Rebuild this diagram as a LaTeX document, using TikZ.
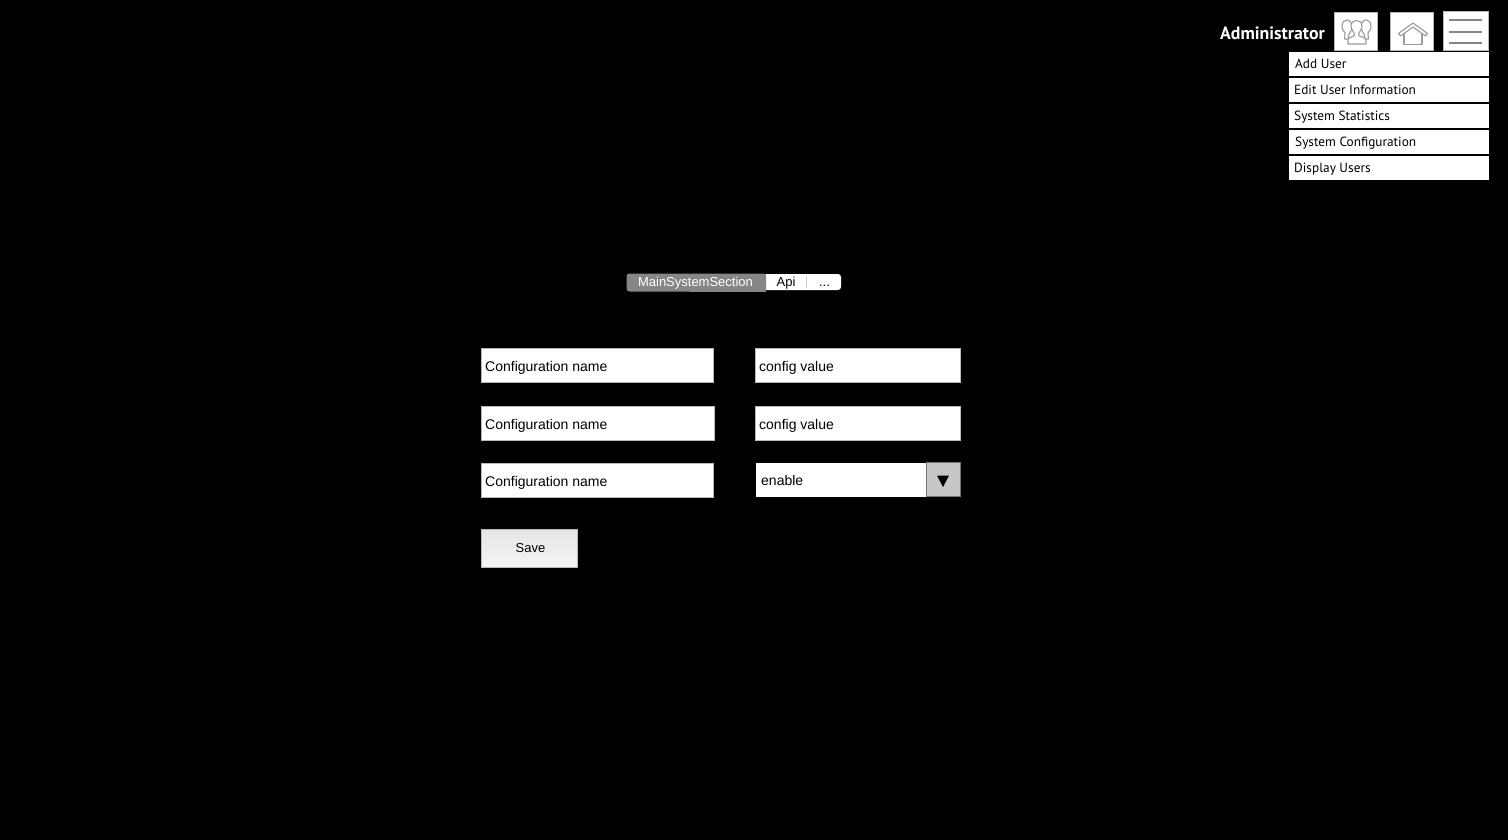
\documentclass[tikz,border=0pt]{standalone}
\usepackage{fontspec}
\setmainfont{Liberation Sans}
\newfontfamily\handfont{PT Sans}
\definecolor{edge}{HTML}{B8B8B8}
\definecolor{icon}{HTML}{9A9A9A}
\definecolor{bar}{HTML}{868686}
\tikzset{
  x=1pt,y=-1pt,
  field/.style={fill=white,draw=edge,line width=0.7pt,anchor=north west,inner sep=0pt,outer sep=0pt},
  fieldtext/.style={anchor=base west,inner sep=0pt,text=black,font=\fontsize{14}{16}\selectfont},
  tabtext/.style={anchor=base,inner sep=0pt,font=\fontsize{13}{15}\selectfont},
  menuitem/.style={fill=white,draw=none,anchor=north west,minimum width=199.5pt,minimum height=23.8pt,inner sep=0pt,outer sep=0pt},
  menutext/.style={anchor=base west,inner sep=0pt,text=black,font=\handfont\fontsize{13.3}{15}\selectfont},
  iconbox/.style={fill=white,draw=edge,line width=0.7pt,anchor=north west,inner sep=0pt,outer sep=0pt},
  iconline/.style={draw=icon,line width=1.1pt,line join=round},
}
\begin{document}
\begin{tikzpicture}
\useasboundingbox (0,0) rectangle (1508,840);
\fill[black] (0,0) rectangle (1508,840);
% header
\node[anchor=base west,inner sep=0pt,text=white,font=\handfont\bfseries\fontsize{17.8}{20}\selectfont] (admin) at (1220,39.5) {Administrator};
\node[iconbox,minimum width=43pt,minimum height=38pt] (users) at (1334,12) {};
\node[iconbox,minimum width=43pt,minimum height=38pt] (home) at (1390.5,12) {};
\node[iconbox,minimum width=44.5pt,minimum height=39pt] (burger) at (1443.5,11) {};
% users icon
\draw[iconline,fill=white] (1364,38) .. controls (1367,36) and (1361,32) .. (1361,27) .. controls (1361,22) and (1364,20) .. (1366,20) .. controls (1369,20) and (1371,22) .. (1371,27) .. controls (1371,31) and (1367,32) .. (1368,34) .. controls (1369,36) and (1369,37) .. (1368.5,39) -- (1364,39);
\draw[iconline,fill=white] (1349,38) .. controls (1346,36) and (1352,32) .. (1352,27) .. controls (1352,22) and (1349,20) .. (1347,20) .. controls (1344,20) and (1342,22) .. (1342,27) .. controls (1342,31) and (1346,32) .. (1345,34) .. controls (1344,36) and (1344,37) .. (1344.5,39) -- (1349,39);
\draw[iconline,fill=white] (1348,44) -- (1348,40) .. controls (1348,37) and (1354,37) .. (1354.5,35) .. controls (1355,33) and (1351,30) .. (1351,26) .. controls (1351,22) and (1354,20.5) .. (1356.5,20.5) .. controls (1359,20.5) and (1362,22) .. (1362,26) .. controls (1362,30) and (1358,33) .. (1358.5,35) .. controls (1359,37) and (1366,37) .. (1366,40) -- (1366,44) -- cycle;
% home icon
\draw[iconline] (1398.5,33.5) -- (1413,23) -- (1427.5,33.5) -- (1425.5,36) -- (1413,27) -- (1400.5,36) -- cycle;
\draw[iconline] (1404,34.5) -- (1404,44.5) -- (1422,44.5) -- (1422,34.5);
% burger
\draw[draw=bar,line width=2pt] (1449,20.5) -- (1482,20.5);
\draw[draw=bar,line width=2pt] (1449,32) -- (1482,32);
\draw[draw=bar,line width=2pt] (1449,43.5) -- (1482,43.5);
% menu
\node[menuitem] (m1) at (1289.3,52) {};
\node[menutext] (m1t) at (1295,68.5) {Add User};
\node[menuitem] (m2) at (1289.3,78) {};
\node[menutext] (m2t) at (1294,94.5) {Edit User Information};
\node[menuitem] (m3) at (1289.3,104) {};
\node[menutext] (m3t) at (1294,120.5) {System Statistics};
\node[menuitem] (m4) at (1289.3,130) {};
\node[menutext] (m4t) at (1295,146.5) {System Configuration};
\node[menuitem] (m5) at (1289.3,156) {};
\node[menutext] (m5t) at (1294,172.5) {Display Users};
% tabs
\fill[white,rounded corners=3pt] (700,274) rectangle (841,290);
\fill[bar,rounded corners=3pt] (626.5,273.5) -- (626.5,291.5) -- (766,291.5) -- (766,273.5) -- cycle;
\fill[bar] (690,273.5) rectangle (766,291.5);
\draw[white!80!black,line width=0.6pt] (806.5,276) -- (806.5,288);
\node[tabtext,text=white] (tab1) at (695.5,286) {MainSystemSection};
\node[tabtext,text=black] (tab2) at (786,286) {Api};
\node[tabtext,text=black] (tab3) at (824.5,286) {...};
% form
\node[field,minimum width=232.3pt,minimum height=34.3pt] (a1) at (481.3,348.3) {};
\node[fieldtext] (a1t) at (485,371) {Configuration name};
\node[field,minimum width=233.3pt,minimum height=34.3pt] (a2) at (481.3,406.3) {};
\node[fieldtext] (a2t) at (485,429) {Configuration name};
\node[field,minimum width=232.3pt,minimum height=34.3pt] (a3) at (481.3,463.3) {};
\node[fieldtext] (a3t) at (485,486) {Configuration name};
\node[field,minimum width=205.3pt,minimum height=34.3pt] (b1) at (755.3,348.3) {};
\node[fieldtext] (b1t) at (759,371) {config value};
\node[field,minimum width=205.3pt,minimum height=34.3pt] (b2) at (755.3,406.3) {};
\node[fieldtext] (b2t) at (759,429) {config value};
% dropdown
\node[field,draw=none,minimum width=170.5pt,minimum height=34pt] (dd) at (755.5,462.5) {};
\node[fieldtext] (ddt) at (761,485) {enable};
\node[field,draw=white!45!black,line width=0.8pt,fill=white!78!black,minimum width=33.5pt,minimum height=33.5pt] (ddb) at (926.8,462.8) {};
\fill[black] (937,475.5) -- (949,475.5) -- (943,487) -- cycle;
% save
\node[field,minimum width=96.3pt,minimum height=38.3pt,top color=white!90!black,bottom color=white!96!black] (save) at (481.3,529.3) {};
\node[tabtext,text=black] (savet) at (530.5,552) {Save};
\end{tikzpicture}
\end{document}
